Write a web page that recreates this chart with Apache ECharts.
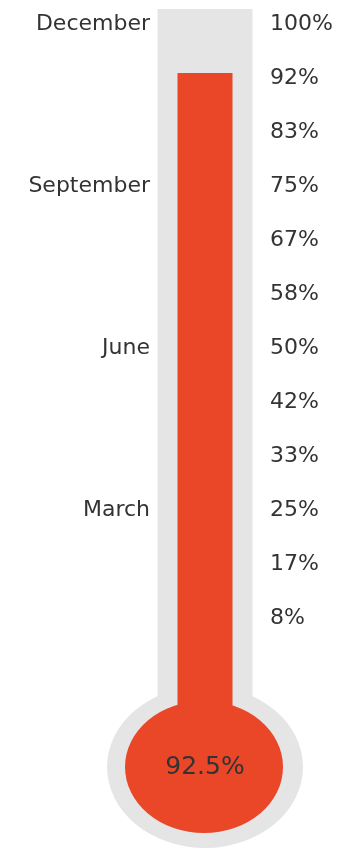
<!DOCTYPE html>
<html>
<head>
<meta charset="utf-8">
<script src="https://cdn.jsdelivr.net/npm/echarts@6/dist/echarts.min.js"></script>
<style>
html,body{margin:0;padding:0;background:#fff;}
#chart{width:339px;height:849px;}
</style>
</head>
<body>
<div id="chart"></div>
<script>
// ---- data ----
var progressValue = 92.5;            // thermometer fill (%)
var progressLabel = '92.5%';
var axisMin = 0;
var axisMax = 100;
var percentStep = 100 / 12;           // right-hand tick spacing
var monthValues = [25, 50, 75, 100];
var monthLabels = ['March', 'June', 'September', 'December'];

var chart = echarts.init(document.getElementById('chart'));

var FONT = '"DejaVu Sans", sans-serif';
var GRAY = '#e5e5e5';
var RED = '#e94727';
var TEXT = '#333333';

function renderThermo(params, api) {
  var v = api.value(1);
  var zero = api.coord([0.5, axisMin]);
  var top100 = api.coord([0.5, axisMax]);
  var fill = api.coord([0.5, v]);
  var cx = zero[0];
  var bulbY = zero[1] + 95;
  return {
    type: 'group',
    children: [
      { type: 'rect', shape: { x: cx - 47.5, y: top100[1] - 15.5, width: 95, height: bulbY - (top100[1] - 15.5) }, style: { fill: GRAY } },
      { type: 'circle', x: cx, y: bulbY, scaleY: 81 / 98, shape: { cx: 0, cy: 0, r: 98 }, style: { fill: GRAY } },
      { type: 'rect', shape: { x: cx - 27.5, y: fill[1], width: 55, height: bulbY - fill[1] }, style: { fill: RED } },
      { type: 'circle', x: cx - 1, y: bulbY, scaleY: 66 / 79, shape: { cx: 0, cy: 0, r: 79 }, style: { fill: RED } },
      { type: 'text', x: cx, y: bulbY, style: { text: progressLabel, fill: TEXT, font: '25px ' + FONT, align: 'center', verticalAlign: 'middle' } }
    ]
  };
}

var monthMap = {};
monthValues.forEach(function (v, i) { monthMap[v] = monthLabels[i]; });

chart.setOption({
  animation: false,
  grid: { left: 155, right: 84, top: 24.5, bottom: 177 },
  xAxis: { type: 'value', min: 0, max: 1, show: false },
  yAxis: [
    {
      type: 'value', position: 'right', min: axisMin, max: axisMax, interval: percentStep,
      axisLine: { show: false }, axisTick: { show: false }, splitLine: { show: false },
      axisLabel: {
        showMinLabel: false, margin: 15, color: TEXT, fontSize: 22, fontFamily: FONT, align: 'left',
        formatter: function (v) { return Math.round(v) + '%'; }
      }
    },
    {
      type: 'value', position: 'left', min: axisMin, max: axisMax, interval: 25,
      axisLine: { show: false }, axisTick: { show: false }, splitLine: { show: false },
      axisLabel: {
        margin: 5, color: TEXT, fontSize: 22, fontFamily: FONT, align: 'right',
        formatter: function (v) { return monthMap[Math.round(v)] || ''; }
      }
    }
  ],
  series: [{
    type: 'custom',
    clip: false,
    renderItem: renderThermo,
    data: [[0.5, progressValue]]
  }]
});
</script>
</body>
</html>
